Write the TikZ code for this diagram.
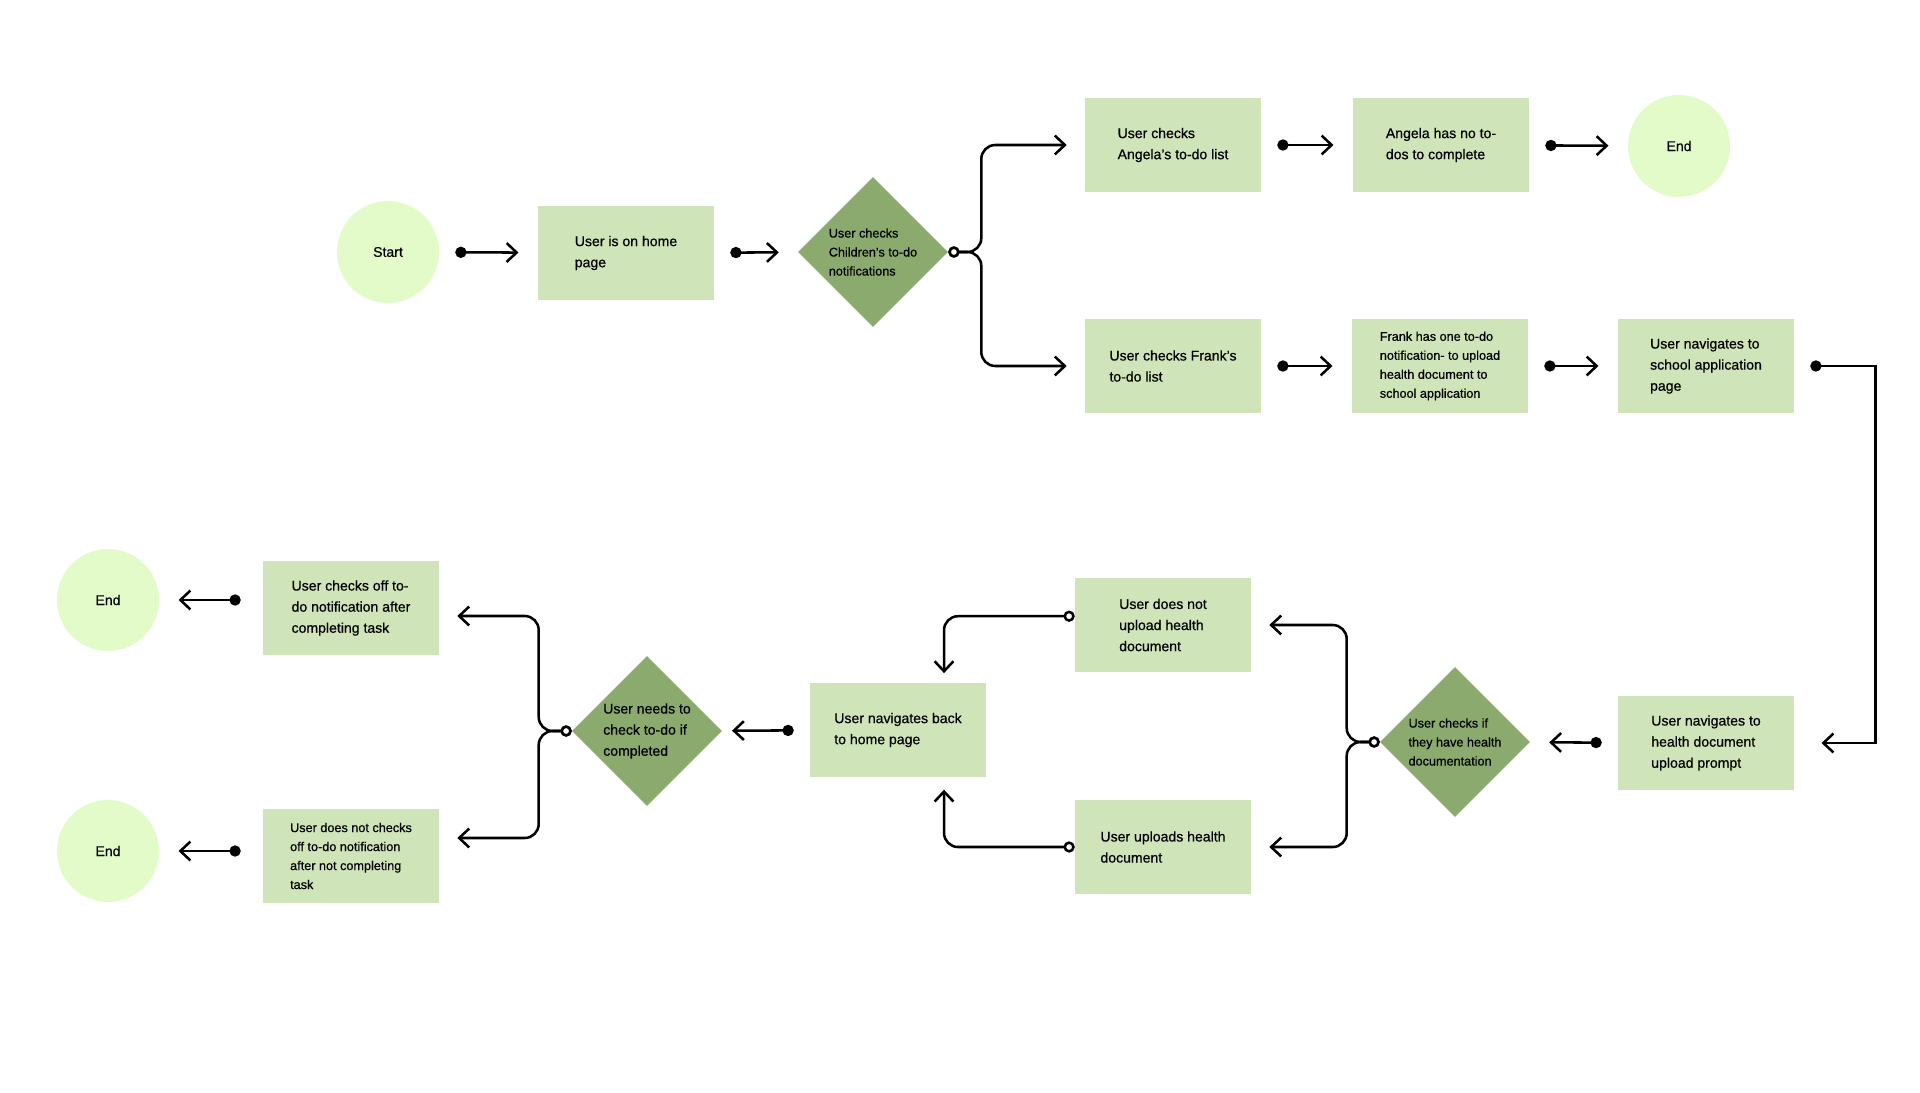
\documentclass[tikz,border=0pt]{standalone}
\usepackage{fontspec}
\setmainfont{Liberation Sans}[FakeBold=0.6]
\usetikzlibrary{shapes.geometric, arrows.meta}
\definecolor{endfill}{HTML}{E2FBC8}
\definecolor{stepfill}{HTML}{D0E4BA}
\definecolor{askfill}{HTML}{8BAA6E}
\tikzstyle{terminal} = [circle, minimum size=2.55cm, inner sep=0, fill=endfill, font=\fontsize{10}{15}\selectfont]
\tikzstyle{stepbox} = [rectangle, minimum width=4.4cm, minimum height=2.33cm, align=left, fill=stepfill, font=\fontsize{10}{15}\selectfont]
\tikzstyle{smallbox} = [stepbox, font=\fontsize{9}{13.5}\selectfont]
\tikzstyle{decision} = [diamond, minimum width=3.75cm, minimum height=3.75cm, inner sep=0, fill=askfill]
\tikzstyle{asktext} = [align=left, font=\fontsize{9}{13.5}\selectfont]
\tikzstyle{arrow} = [line width=1.8pt, {Circle[length=0.28cm]}-{Straight Barb[length=0.25cm,width=0.47cm]}, shorten <=0.4cm, shorten >=0.48cm]
\tikzstyle{branch} = [line width=1.8pt, rounded corners=0.35cm, {Circle[length=0.28cm,fill=white]}-{Straight Barb[length=0.25cm,width=0.47cm]}, shorten >=0.45cm]

\begin{document}
\begin{tikzpicture}[x=0.025cm, y=-0.025cm]
\useasboundingbox (0,0) rectangle (1920,1092);

\node[terminal] (start) at (388,252) {Start};
\node[stepbox] (home) at (626,253) {User is on home\\page};
\node[decision, label={[asktext]center:User checks\\Children’s to-do\\notifications}] (d1) at (873,252) {};
\node[stepbox] (ang) at (1173,145) {User checks\\Angela’s to-do list};
\node[stepbox] (angnone) at (1441,145) {Angela has no to-\\dos to complete};
\node[terminal] (end1) at (1679,146) {End};
\node[stepbox] (frank) at (1173,366) {User checks Frank’s\\to-do list};
\node[smallbox] (frankone) at (1440,366) {Frank has one to-do\\notification- to upload\\health document to\\school application};
\node[stepbox] (school) at (1706,366) {User navigates to\\school application\\page};

\node[stepbox] (prompt) at (1706,743) {User navigates to\\health document\\upload prompt};
\node[decision, label={[asktext]center:User checks if\\they have health\\documentation}] (d2) at (1455,742) {};
\node[stepbox] (noup) at (1163,625) {User does not\\upload health\\document};
\node[stepbox] (upload) at (1163,847) {User uploads health\\document};
\node[stepbox] (back) at (898,730) {User navigates back\\to home page};
\node[decision, label={[asktext, font=\fontsize{10}{15}\selectfont]center:User needs to\\check to-do if\\completed}] (d3) at (647,731) {};
\node[stepbox] (checked) at (351,608) {User checks off to-\\do notification after\\completing task};
\node[smallbox] (unchecked) at (351,856) {User does not checks\\off to-do notification\\after not completing\\task};
\node[terminal] (end2) at (108,600) {End};
\node[terminal] (end3) at (108,851) {End};

\draw[arrow] (start) -- (home);
\draw[arrow] (home) -- (d1);
\draw[branch] (d1.east) -- ++(33,0) |- (ang.west);
\draw[branch] (d1.east) -- ++(33,0) |- (frank.west);
\draw[arrow] (ang) -- (angnone);
\draw[arrow] (angnone) -- (end1);
\draw[arrow] (frank) -- (frankone);
\draw[arrow] (frankone) -- (school);
\draw[arrow, shorten >=0.68cm] (school.east) -- ++(81,0) |- (prompt.east);
\draw[arrow] (prompt) -- (d2);
\draw[branch] (d2.west) -- ++(-33,0) |- (noup.east);
\draw[branch] (d2.west) -- ++(-33,0) |- (upload.east);
\draw[branch, shorten >=0.25cm] ([yshift=0.22cm]noup.west) -| ([xshift=1.15cm]back.north);
\draw[branch, shorten >=0.32cm] (upload.west) -| ([xshift=1.15cm]back.south);
\draw[arrow, shorten >=0.25cm] (back) -- (d3);
\draw[branch] (d3.west) -- ++(-33,0) |- ([yshift=-0.2cm]checked.east);
\draw[branch] (d3.west) -- ++(-33,0) |- ([yshift=0.45cm]unchecked.east);
\draw[arrow, shorten <=0.55cm] (checked.west |- end2) -- (end2);
\draw[arrow, shorten <=0.55cm] (unchecked.west |- end3) -- (end3);
\end{tikzpicture}
\end{document}
